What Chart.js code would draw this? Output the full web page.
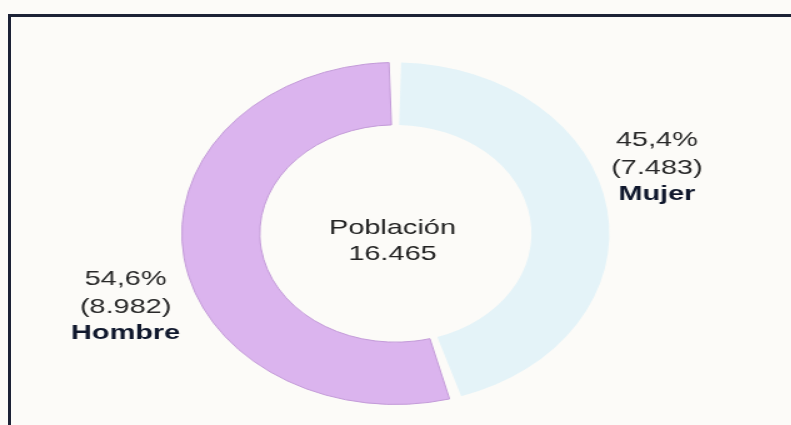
<!DOCTYPE html>
<html>
<head>
<meta charset="utf-8">
<script src="https://cdn.jsdelivr.net/npm/chart.js@4.4.0/dist/chart.umd.min.js"></script>
<style>
html, body { margin: 0; padding: 0; width: 791px; height: 425px; overflow: hidden; background: #fcfbf8; }
#frame-top { position: absolute; left: 8px; top: 14px; width: 783px; height: 3px; background: #1c2236; }
#frame-left { position: absolute; left: 8px; top: 14px; width: 3px; height: 411px; background: #1c2236; }
#pop-chart { position: absolute; left: 0; top: 0; transform: scaleX(1.25); transform-origin: 0 0; }
</style>
</head>
<body>
<div id="frame-top"></div>
<div id="frame-left"></div>
<canvas id="pop-chart" width="633" height="425"></canvas>
<script>
const categories = ['Mujer', 'Hombre'];
const values = [7483, 8982];
const centerTitle = 'Población';

const total = values.reduce((a, b) => a + b, 0);
const fmtNum = (n) => String(n).replace(/\B(?=(\d{3})+(?!\d))/g, '.');
const fmtPct = (v) => (v / total * 100).toFixed(1).replace('.', ',') + '%';

// draws the centre text and the outside labels
const labelPlugin = {
    id: 'popLabels',
    afterDraw(chart) {
        const ctx = chart.ctx;
        const arc = chart.getDatasetMeta(0).data[0];
        const cx = arc.x, cy = arc.y;
        const line = (text, x, y, bold, color) => {
            ctx.save();
            ctx.translate(x, y);
            ctx.scale(1.1, 1);
            ctx.font = (bold ? 'bold ' : '') + '21px "Liberation Sans", Arial, sans-serif';
            ctx.fillStyle = color;
            ctx.textAlign = 'center';
            ctx.textBaseline = 'alphabetic';
            ctx.fillText(text, 0, 0);
            ctx.restore();
        };
        line(centerTitle, cx - 2.5, cy, false, '#222');
        line(fmtNum(total), cx - 2.5, cy + 26, false, '#222');

        // [dx, first baseline dy] per category
        const spots = [[209, -88], [-216, 51]];
        categories.forEach((name, i) => {
            const [dx, dy] = spots[i];
            line(fmtPct(values[i]), cx + dx, cy + dy, false, '#282828');
            line('(' + fmtNum(values[i]) + ')', cx + dx, cy + dy + 28, false, '#282828');
            line(name, cx + dx, cy + dy + 54, true, '#0f172c');
        });
    }
};

const ctx = document.getElementById('pop-chart').getContext('2d');
const popChart = new Chart(ctx, {
    type: 'doughnut',
    data: {
        labels: categories,
        datasets: [{
            data: values,
            backgroundColor: ['#e4f3f8', '#dbb4ee'],
            borderColor: ['#e4f3f8', '#c39bd8'],
            borderWidth: [0, 1],
            spacing: 5
        }]
    },
    options: {
        responsive: false,
        animation: false,
        cutout: '63%',
        layout: { padding: { top: 62, bottom: 20, left: 0, right: 0 } },
        plugins: {
            legend: { display: false },
            tooltip: { enabled: false }
        }
    },
    plugins: [labelPlugin]
});
</script>
</body>
</html>
